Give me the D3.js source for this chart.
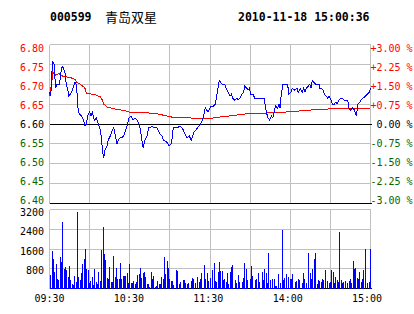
<!DOCTYPE html>
<html>
<head>
<meta charset="utf-8">
<script src="https://cdn.jsdelivr.net/npm/d3@7/dist/d3.min.js"></script>
<style>
  body { margin: 0; background: #fff; }
  svg { display: block; }
  .lbl { font-family: "DejaVu Sans Mono", monospace; font-size: 10px; }
  .head { font-family: "DejaVu Sans Mono", monospace; font-size: 11.5px; font-weight: bold; }
  .name { font-family: "Noto Sans CJK SC", sans-serif; font-size: 13px; }
</style>
</head>
<body>
<div id="chart"></div>
<script>
// header
const stockCode = "000599";
const stockName = "青岛双星";
const stamp = "2010-11-18 15:00:36";

// axis labels
const priceTicks = [6.80, 6.75, 6.70, 6.65, 6.60, 6.55, 6.50, 6.45, 6.40];
const pctLabels = ["+3.00 %", "+2.25 %", "+1.50 %", "+0.75 %", "0.00 %", "-0.75 %", "-1.50 %", "-2.25 %", "-3.00 %"];
const volTicks = [3200, 2400, 1600, 800];
const timeLabels = ["09:30", "10:30", "11:30", "14:00", "15:00"];
const prevClose = 6.60;

// [minute, price]
const priceSeries = [
  [0,6.68],[1,6.67],[1.5,6.72],[2.5,6.755],[3.5,6.75],[4.5,6.69],[5.5,6.70],[7.5,6.70],[8.5,6.73],[9.5,6.745],
  [10.5,6.74],[11.5,6.73],[12,6.72],[12.5,6.70],[13.5,6.69],[14.5,6.67],[15.5,6.675],[16.5,6.68],[17.5,6.69],[18.5,6.70],
  [19,6.705],[20,6.70],[21,6.66],[21.5,6.63],[22.5,6.625],[24,6.62],[25.5,6.61],[26.5,6.595],[27.5,6.60],[28.5,6.62],
  [30,6.63],[31,6.62],[32,6.63],[33.5,6.61],[35,6.615],[36.5,6.60],[38,6.585],[39,6.56],[39.5,6.535],[40.5,6.515],
  [41.5,6.535],[43,6.545],[44,6.56],[45.5,6.57],[47,6.585],[48,6.59],[49,6.575],[50.5,6.55],[51.5,6.56],[53,6.565],
  [54,6.565],[55.5,6.57],[57,6.585],[58,6.595],[59.5,6.615],[61,6.62],[62.5,6.61],[64,6.615],[65.5,6.61],[67,6.60],
  [68,6.585],[69,6.56],[70,6.54],[71.5,6.56],[73,6.57],[74,6.59],[75.5,6.59],[76.5,6.595],[78,6.59],[80.5,6.59],
  [82.5,6.575],[84,6.57],[85,6.56],[87.5,6.555],[89.5,6.545],[91,6.55],[92,6.57],[92.5,6.59],[94,6.59],[95.5,6.59],
  [97.5,6.595],[99,6.59],[100,6.585],[102,6.57],[103,6.565],[104.5,6.57],[106,6.56],[107,6.57],[108,6.58],[109.5,6.585],
  [110.5,6.59],[112,6.595],[113,6.60],[114.5,6.61],[115.5,6.625],[116.5,6.64],[117.5,6.635],[118.5,6.63],[120,6.64],[121,6.645],
  [122.5,6.645],[124,6.65],[125,6.67],[126,6.69],[127,6.71],[128,6.705],[129,6.70],[131,6.70],[132,6.69],[133.5,6.68],
  [135,6.67],[136,6.675],[137,6.665],[138.5,6.66],[140,6.665],[141,6.66],[142.5,6.665],[144,6.675],[145,6.68],[146,6.695],
  [147.5,6.69],[148.5,6.685],[149.5,6.69],[150.5,6.675],[152,6.675],[153.5,6.665],[155,6.665],[158,6.665],[160.5,6.665],[161,6.655],
  [161.5,6.64],[162.5,6.625],[163.5,6.615],[164.5,6.61],[166,6.62],[167,6.615],[168,6.63],[169,6.645],[170.5,6.64],[171.5,6.65],
  [172.5,6.64],[173,6.665],[174,6.69],[174.5,6.70],[177.5,6.70],[178.5,6.69],[179,6.675],[180.5,6.68],[181.5,6.69],[183.5,6.685],
  [185,6.69],[186,6.68],[187.5,6.69],[189,6.68],[190,6.69],[191,6.68],[192,6.69],[193.5,6.695],[194.5,6.70],[195.5,6.69],
  [196.5,6.71],[197.5,6.705],[199,6.70],[201.5,6.70],[202,6.69],[203.5,6.69],[204.5,6.685],[205.5,6.675],[207,6.67],[208,6.665],
  [209,6.67],[210.5,6.66],[211.5,6.65],[213,6.65],[214,6.655],[215,6.65],[216.5,6.66],[218,6.665],[219,6.665],[220.5,6.66],
  [223,6.66],[224,6.64],[225,6.635],[226.5,6.64],[228,6.635],[229.5,6.62],[230,6.635],[230.5,6.65],[232,6.655],[233,6.66],
  [234.5,6.665],[236,6.67],[237.5,6.675],[239,6.68],[240,6.69]
];

// [minute, average price]
const avgSeries = [
  [0,6.67],[1.5,6.70],[2.5,6.73],[4.5,6.723],[7,6.727],[10,6.72],[15.5,6.717],[19,6.712],[20.5,6.705],[22,6.702],
  [25,6.695],[26.5,6.69],[27.5,6.678],[30,6.676],[35,6.673],[38,6.668],[39.5,6.66],[40.5,6.65],[43,6.643],[50,6.637],
  [54,6.635],[58,6.632],[60,6.629],[66,6.629],[73,6.628],[80,6.626],[88,6.62],[92,6.617],[100,6.616],[112,6.614],
  [120,6.614],[126,6.617],[137,6.621],[150,6.627],[168,6.628],[180,6.631],[192,6.634],[198,6.636],[210,6.638],[240,6.639]
];

// [minute, volume]
const volSeries = [
  [0,540],[1,300],[2,1520],[3,1190],[4,650],[5,980],[6,380],[7,340],[8,1275],[9,1060],
  [10,2685],[11,770],[12,870],[13,730],[14,475],[15,910],[16,325],[17,200],[18,150],[19,500],
  [20,245],[21,3090],[22,460],[23,340],[24,610],[25,975],[26,1190],[27,1600],[28,785],[29,745],
  [30,230],[31,300],[32,460],[33,135],[34,785],[35,245],[36,190],[37,665],[38,285],[39,1560],
  [40,2495],[41,1400],[42,1150],[43,435],[44,380],[45,870],[46,260],[47,245],[48,1315],[49,450],
  [50,830],[51,380],[52,395],[53,1020],[54,405],[55,515],[56,515],[57,500],[58,610],[59,230],
  [60,975],[61,215],[62,215],[63,300],[64,175],[65,245],[66,540],[67,600],[68,830],[69,420],
  [70,640],[71,665],[72,460],[73,165],[74,165],[75,80],[76,665],[77,380],[78,500],[79,80],
  [80,110],[81,300],[82,190],[83,175],[84,460],[85,380],[86,1275],[87,585],[88,1110],[89,830],
  [90,395],[91,300],[92,300],[93,135],[95,740],[96,700],[97,200],[98,270],[100,340],[101,340],
  [102,215],[103,200],[104,215],[106,285],[107,430],[108,380],[109,230],[111,460],[112,270],[113,365],
  [114,635],[116,970],[117,380],[118,635],[119,310],[120,430],[122,740],[123,1040],[124,310],[125,270],
  [126,675],[127,1065],[128,715],[129,715],[130,340],[131,405],[132,270],[133,608],[134,200],[135,675],
  [136,880],[137,945],[139,340],[140,230],[141,540],[142,245],[144,270],[145,445],[146,1040],[147,810],
  [148,340],[150,405],[151,905],[152,500],[154,340],[155,365],[156,610],[157,255],[159,675],[160,340],
  [161,810],[162,635],[163,230],[164,1445],[165,340],[167,365],[168,380],[169,95],[170,95],[171,580],
  [173,230],[174,2360],[175,340],[176,445],[177,580],[179,475],[180,365],[181,405],[182,580],[184,270],
  [185,310],[186,365],[187,340],[189,230],[190,635],[191,365],[192,230],[194,1420],[195,635],[196,405],
  [197,810],[198,1215],[199,1420],[200,200],[201,340],[202,310],[203,270],[204,365],[205,340],[206,740],
  [208,310],[209,230],[210,270],[211,740],[212,675],[213,230],[214,475],[215,340],[216,270],[217,2295],
  [218,340],[219,230],[220,270],[221,310],[223,230],[224,310],[225,405],[226,230],[227,1120],[228,810],
  [229,840],[230,445],[231,365],[232,675],[233,270],[234,365],[235,740],[236,1620],[238,230],[239,270],
  [240,1580]
];

const W = 414, H = 314;
const left = 49.5, right = 370.5;
const pTop = 44.5, pBot = 203.5;
const vTop = 209.5, vBot = 288.5;
const red = "#ff0000", green = "#006600", grid = "#c0c0c0";

const svg = d3.select("#chart").append("svg")
  .attr("width", W).attr("height", H);

const x = d3.scaleLinear().domain([0, 240]).range([left, right]);
const y = d3.scaleLinear().domain([6.40, 6.80]).range([pBot, pTop]);
const yv = d3.scaleLinear().domain([0, 3200]).range([vBot, vTop]);

// header text
svg.append("text").attr("class", "head").attr("x", 50).attr("y", 21).text(stockCode);
svg.append("text").attr("class", "name").attr("x", 105).attr("y", 22).text(stockName);
svg.append("text").attr("class", "head").attr("x", 238).attr("y", 21).text(stamp);

// grids
const g = svg.append("g").attr("shape-rendering", "crispEdges");
const vLines = d3.range(0, 241, 30);

g.selectAll(".ph").data(priceTicks).join("line")
  .attr("x1", left).attr("x2", right)
  .attr("y1", d => y(d)).attr("y2", d => y(d))
  .attr("stroke", grid);

g.selectAll(".pv").data(vLines).join("line")
  .attr("x1", d => x(d)).attr("x2", d => x(d))
  .attr("y1", pTop).attr("y2", pBot)
  .attr("stroke", grid);

g.selectAll(".vh").data(volTicks).join("line")
  .attr("x1", left).attr("x2", right)
  .attr("y1", d => yv(d)).attr("y2", d => yv(d))
  .attr("stroke", grid);

g.selectAll(".vv").data(vLines).join("line")
  .attr("x1", d => x(d)).attr("x2", d => x(d))
  .attr("y1", vTop).attr("y2", vBot)
  .attr("stroke", grid);

// black lines: previous close and panel bottoms
[y(prevClose), pBot, vBot].forEach(yy => {
  g.append("line").attr("x1", left).attr("x2", right + 1)
    .attr("y1", yy).attr("y2", yy).attr("stroke", "#000");
});

// left price labels
svg.selectAll(".pl").data(priceTicks).join("text")
  .attr("class", "lbl")
  .attr("x", 44).attr("text-anchor", "end")
  .attr("y", (d, i) => y(d) + 7 - 0.85 * i)
  .attr("fill", d => d > prevClose ? red : d < prevClose ? green : "#000")
  .text(d => d.toFixed(2));

// right percent labels
svg.selectAll(".rl").data(pctLabels).join("text")
  .attr("class", "lbl")
  .attr("x", 370.5)
  .attr("y", (d, i) => y(priceTicks[i]) + 7 - 0.85 * i)
  .attr("fill", d => d[0] === "+" ? red : d[0] === "-" ? green : "#000")
  .text(d => (d[0] === "+" || d[0] === "-") ? d : "\u00a0" + d);

// volume labels
svg.selectAll(".vl").data(volTicks).join("text")
  .attr("class", "lbl")
  .attr("x", 44).attr("text-anchor", "end")
  .attr("y", (d, i) => yv(d) + 6.8 - 0.65 * i)
  .text(d => d);

// time labels
svg.selectAll(".tl").data(timeLabels).join("text")
  .attr("class", "lbl")
  .attr("text-anchor", "middle")
  .attr("x", (d, i) => x(i * 60) - i * 0.85)
  .attr("y", 302)
  .text(d => d);

// volume bars
svg.append("g").attr("shape-rendering", "crispEdges")
  .selectAll("rect").data(volSeries).join("rect")
  .attr("x", d => Math.max(Math.floor(x(d[0])), 50))
  .attr("width", 1)
  .attr("y", d => Math.round(yv(d[1])))
  .attr("height", d => vBot - Math.round(yv(d[1])))
  .attr("fill", "#0000ff");

// average and price lines, drawn aliased like the original
const line = d3.line().x(d => x(d[0])).y(d => y(d[1]));

svg.append("path").datum(avgSeries)
  .attr("fill", "none").attr("stroke", red).attr("stroke-width", 1)
  .attr("shape-rendering", "crispEdges")
  .attr("d", line);

svg.append("path").datum(priceSeries)
  .attr("fill", "none").attr("stroke", "#0000ff").attr("stroke-width", 1)
  .attr("shape-rendering", "crispEdges")
  .attr("d", line);
</script>
</body>
</html>
